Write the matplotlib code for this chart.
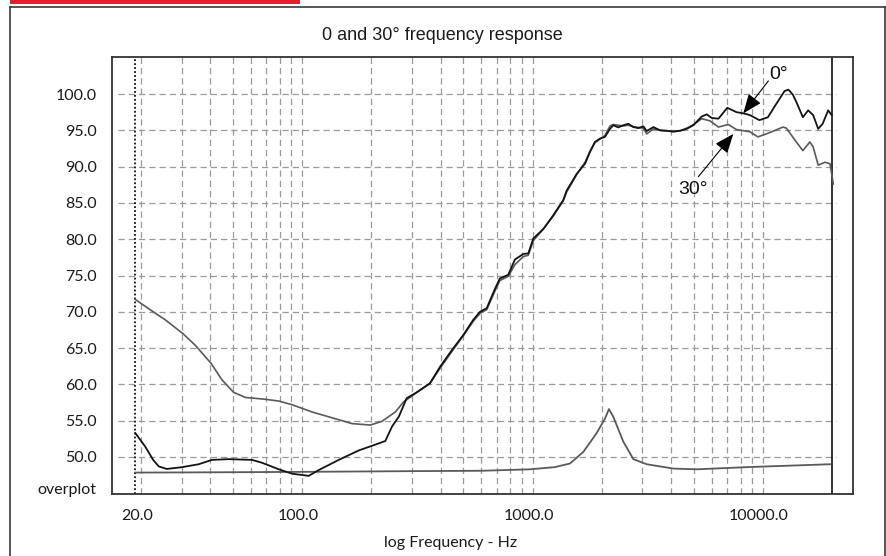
import matplotlib
matplotlib.use("Agg")
import matplotlib.pyplot as plt
import matplotlib.transforms as mtransforms
from matplotlib.lines import Line2D
from matplotlib.patches import Rectangle
from matplotlib.ticker import FixedLocator, NullLocator, NullFormatter

# ---- measured data -------------------------------------------------------
# on-axis (0 degree) response
freq_0deg = [18.9, 20.9, 22.6, 23.9, 25.9, 30.2, 35.6, 40.7, 48.1, 60.7, 67.1,
             79.3, 90.5, 106.9, 118.2, 144.3, 176.2, 207.9, 229.8, 245.8, 263,
             284.5, 314.5, 358.7, 396.7, 446.3, 500.9, 553.6, 592, 633, 688,
             722, 785, 839, 912, 959, 1008, 1114, 1231, 1360, 1407, 1555, 1690,
             1775, 1866, 1963, 2063, 2169, 2241, 2357, 2478, 2605, 2739, 2879,
             3027, 3130, 3346, 3573, 3819, 4083, 4365, 4666, 4987, 5420, 5700,
             5994, 6407, 7000, 7680, 8213, 8768, 9651, 10500, 11400, 12400,
             12900, 13490, 14000, 14900, 15700, 16510, 17360, 18150, 19180,
             19860]
spl_0deg = [53.3, 51.4, 49.6, 48.7, 48.35, 48.6, 49.0, 49.6, 49.7, 49.6, 49.2,
            48.3, 47.7, 47.4, 48.2, 49.6, 50.9, 51.7, 52.2, 54.2, 55.55,
            58.1, 58.9, 60.15, 62.4, 64.7, 66.8, 68.9, 70.0, 70.5, 73.2,
            74.6, 75.1, 77.2, 77.96, 78.05, 80.1, 81.4, 83.3, 85.4, 86.7, 89.0,
            90.4, 92.0, 93.4, 93.85, 94.1, 95.2, 95.7, 95.4, 95.7, 95.9, 95.45,
            95.3, 95.55, 94.9, 95.45, 95.0, 94.95, 94.8, 94.95, 95.2, 95.7,
            96.9, 97.2, 96.7, 96.6, 98.1, 97.5, 97.34, 97.1, 96.4, 96.8, 98.6,
            100.4, 100.6, 99.9, 98.8, 96.8, 97.75, 97.1, 95.2, 95.9, 97.75,
            97.1]

# 30 degree off-axis response
freq_30deg = [18.9, 23.1, 25.5, 30.4, 34.4, 40.3, 45.0, 50.5, 56.8, 69.3, 79.3,
              90.5, 110.5, 135, 164.7, 197.8, 222, 254, 276, 300, 314.5, 358.7,
              396.7, 446.3, 500.9, 553.6, 592, 633, 688, 722, 785, 839, 912,
              959, 1008, 1114, 1231, 1360, 1407, 1555, 1690, 1775, 1866, 1963,
              2063, 2169, 2241, 2357, 2478, 2605, 2739, 2879, 3027, 3130, 3346,
              3573, 3819, 4083, 4365, 4742, 5000, 5420, 5894, 6407, 7067, 7680,
              8768, 9500, 10330, 11300, 12210, 12630, 13950, 14900, 15970,
              16510, 17360, 18570, 19530, 20200]
spl_30deg = [71.7, 69.8, 68.9, 67.0, 65.4, 62.9, 60.6, 58.9, 58.2, 57.95, 57.7,
             57.2, 56.2, 55.4, 54.6, 54.4, 54.9, 56.2, 57.6, 58.4, 58.9, 60.1,
             62.2, 64.5, 66.7, 68.7, 69.8, 70.3, 72.9, 74.3, 74.9, 76.5, 77.6,
             77.8, 79.8, 81.4, 83.2, 85.3, 86.5, 88.9, 90.6, 92.1, 93.3, 93.8,
             94.3, 95.6, 95.8, 95.7, 95.6, 95.7, 95.5, 95.4, 95.3, 94.5, 95.2,
             95.0, 94.9, 94.9, 94.9, 95.4, 95.8, 96.6, 96.3, 95.45, 95.8, 95.1,
             94.8, 94.1, 94.5, 95.0, 95.45, 95.3, 93.4, 92.2, 93.4,
             92.7, 90.2, 90.6, 90.4, 87.6]

# impedance overplot (scaled onto the dB axis)
freq_imp = [18.9, 50, 100, 300, 600, 975, 1250, 1454, 1662, 1899, 2064, 2146,
            2241, 2478, 2739, 3130, 4083, 5160, 8507, 19530]
imp_overplot = [47.85, 47.9, 47.95, 48.05, 48.1, 48.3, 48.6, 49.1, 50.7, 53.3,
                55.3, 56.6, 55.55, 52.1, 49.7, 49.0, 48.4, 48.3, 48.6, 49.0]

# axis labelling
x_ticks = [20, 100, 1000, 10000]
x_tick_labels = ["20.0", "100.0", "1000.0", "10000.0"]
y_levels = [50, 55, 60, 65, 70, 75, 80, 85, 90, 95, 100]
grid_freqs = ([20, 30, 40, 50, 60, 70, 80, 90] +
              [100, 200, 300, 400, 500, 600, 700, 800, 900] +
              [1000, 2000, 3000, 4000, 5000, 6000, 7000, 8000, 9000, 10000])

# ---- figure ---------------------------------------------------------------
W, H = 887, 556
fig = plt.figure(figsize=(W / 100, H / 100), dpi=100)
fig.patch.set_facecolor("white")

# page frame and red header strip
frame_kw = dict(color="#3a3a3a", lw=1.2, transform=fig.transFigure)
fig.add_artist(Line2D([10 / W, 10 / W], [0, 1 - 7 / H], **frame_kw))
fig.add_artist(Line2D([10 / W, 885 / W], [1 - 7 / H, 1 - 7 / H], **frame_kw))
fig.add_artist(Line2D([885 / W, 885 / W], [0, 1 - 7 / H], **frame_kw))
fig.add_artist(Rectangle((10 / W, 1 - 3.5 / H), 290 / W, 3.5 / H,
                         transform=fig.transFigure, color="#e3202f", lw=0))

ax = fig.add_axes([112 / W, 1 - 494 / H, (853 - 112) / W, (494 - 57) / H])
ax.set_xscale("log")
ax.set_xlim(14.98, 24580)
ax.set_ylim(44.9, 105.1)

grid_kw = dict(color="#9a9a9a", lw=0.9, ls=(0, (5, 3.2)), zorder=1)
for f in grid_freqs:
    ax.axvline(f, **grid_kw)
ax.hlines(y_levels, 15.9, 20800, **grid_kw)

# band limits
ax.axvline(18.9, color="#111111", lw=1.3, ls=(0, (1, 1.2)), zorder=2)
ax.axvline(20000, color="#111111", lw=1.2, zorder=2)

ax.plot(freq_imp, imp_overplot, color="#5a5a5a", lw=1.3, zorder=3)
ax.plot(freq_30deg, spl_30deg, color="#5a5a5a", lw=1.2, zorder=3)
ax.plot(freq_0deg, spl_0deg, color="#141414", lw=1.3, zorder=4)

# curve labels with pointer arrows
arrow = dict(arrowstyle="-|>,head_length=0.7,head_width=0.28",
             color="black", lw=0.8, mutation_scale=17, shrinkA=0, shrinkB=0)
label_kw = dict(ha="center", va="center", fontsize=14,
                family="Liberation Sans", color="#111111", zorder=5)
ax.text(11680, 102.7, "0°", **label_kw)
ax.annotate("", xy=(8213, 97.34), xytext=(10550, 101.8), arrowprops=arrow,
            zorder=5)
ax.text(4970, 86.85, "30°", **label_kw)
ax.annotate("", xy=(7433, 94.5), xytext=(5240, 88.6), arrowprops=arrow,
            zorder=5)

# axes styling
for s in ax.spines.values():
    s.set_color("#333333")
    s.set_linewidth(1.3)

ax.xaxis.set_major_locator(FixedLocator(x_ticks))
ax.xaxis.set_minor_locator(NullLocator())
ax.xaxis.set_minor_formatter(NullFormatter())
ax.set_xticklabels(x_tick_labels)
ax.set_yticks(y_levels + [45.6])
ax.set_yticklabels([f"{v:.1f}" for v in y_levels] + ["overplot"])
ax.tick_params(axis="both", length=0, labelsize=11.5, colors="#1a1a1a")
ax.tick_params(axis="x", pad=11)
ax.tick_params(axis="y", pad=11)
for lbl in ax.get_xticklabels() + ax.get_yticklabels():
    lbl.set_family("Lato")
shift = mtransforms.ScaledTranslation(-4 / 100, 0, fig.dpi_scale_trans)
for lbl in ax.get_xticklabels():
    lbl.set_transform(lbl.get_transform() + shift)

fig.text(442 / W, 1 - 35 / H, "0 and 30° frequency response", ha="center",
         va="center", fontsize=13, family="Liberation Sans", color="#1a1a1a")
fig.text(451 / W, 1 - 543 / H, "log Frequency - Hz", ha="center", va="center",
         fontsize=11.5, family="Lato", color="#1a1a1a")

fig.savefig("out.png", dpi=100)
